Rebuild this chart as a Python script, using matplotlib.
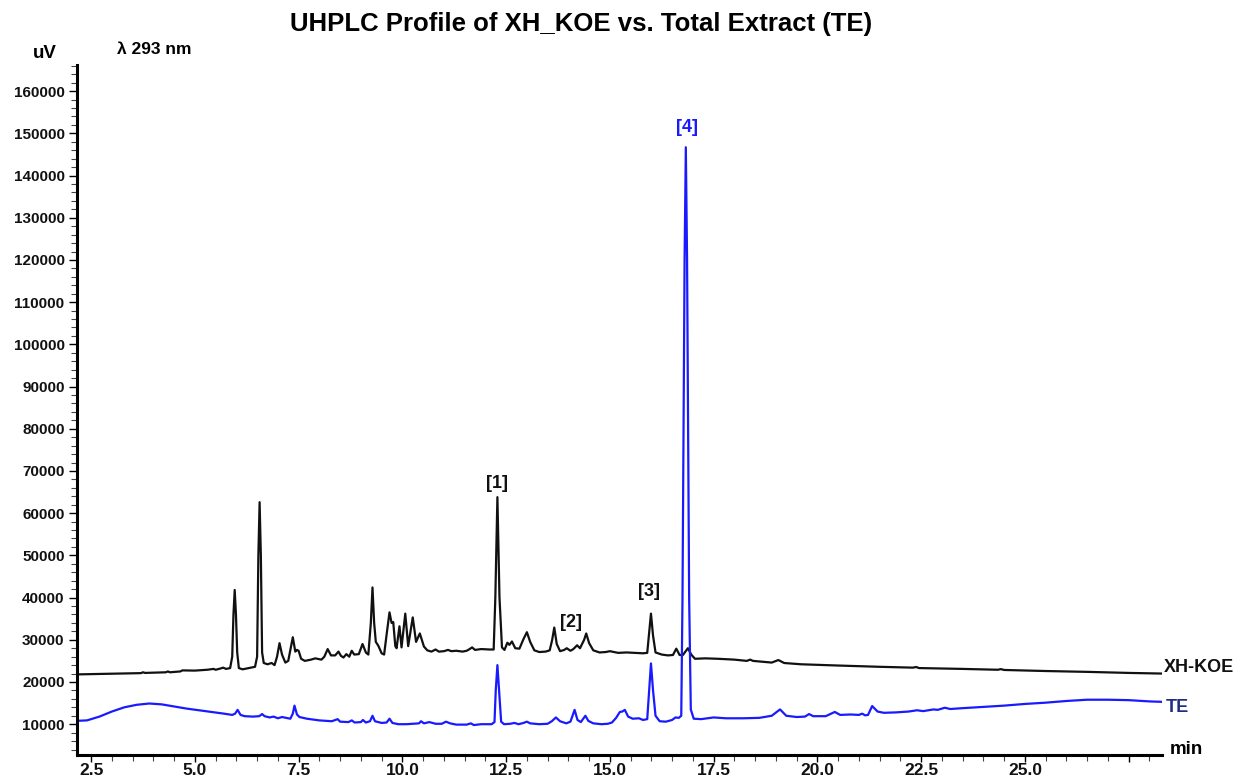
import matplotlib.pyplot as plt
from matplotlib.ticker import MultipleLocator

plt.rcParams['font.family'] = ['Liberation Sans', 'DejaVu Sans']

# XH-KOE trace (time in min, signal in uV)
koe_t = [2.16, 3.0, 3.7, 3.75, 3.8, 4.3, 4.35, 4.4, 4.65, 4.7, 5.0, 5.3, 5.45, 5.5, 5.62, 5.68, 5.75, 5.85,
         5.9, 5.93, 5.96, 5.99, 6.02, 6.06, 6.15, 6.3, 6.45,
         6.5, 6.53, 6.56, 6.59, 6.62, 6.66, 6.75, 6.85, 6.92,
         6.98, 7.04, 7.1, 7.18, 7.25,
         7.31, 7.36, 7.42, 7.46, 7.5, 7.56, 7.65, 7.8, 7.9, 8.05, 8.12,
         8.2, 8.28, 8.38, 8.46, 8.52, 8.58, 8.65, 8.72, 8.78, 8.84, 8.95,
         9.04, 9.12, 9.18,
         9.24, 9.28, 9.32, 9.36, 9.42, 9.5, 9.56,
         9.63, 9.69, 9.74, 9.78, 9.83, 9.86,
         9.93, 9.98, 10.07, 10.14, 10.25, 10.33,
         10.42, 10.52, 10.6, 10.7, 10.8, 10.88, 11.0, 11.1, 11.18, 11.3, 11.45, 11.55, 11.62, 11.68, 11.75, 11.9, 12.1, 12.2,
         12.24, 12.29, 12.34, 12.4, 12.46, 12.53, 12.58, 12.64, 12.72, 12.82,
         12.92, 13.0, 13.08, 13.18, 13.3, 13.45, 13.55,
         13.61, 13.66, 13.72, 13.8, 13.9, 13.96, 14.05, 14.12,
         14.21, 14.28,
         14.38, 14.43, 14.5, 14.6, 14.75, 14.9, 15.0, 15.2, 15.4, 15.6, 15.8, 15.9,
         15.94, 15.99, 16.04, 16.1, 16.25, 16.4, 16.52,
         16.6, 16.68, 16.76,
         16.88, 16.96, 17.05, 17.3, 17.6, 18.0, 18.3, 18.38, 18.45, 18.9, 19.06, 19.2, 19.6, 20.5, 21.5, 22.3, 22.38, 22.45,
         23.5, 24.35, 24.42, 24.5, 25.5, 26.5, 27.5, 28.3]
koe_uv = [21800, 21950, 22100, 22300, 22150, 22300, 22500, 22300, 22500, 22750, 22700, 22900, 23100, 22900, 23200, 23400, 23100, 23300,
          26000, 36000, 41800, 36000, 27000, 23300, 23000, 23300, 23600,
          26000, 50000, 62600, 50000, 27000, 24500, 24200, 24500, 24000,
          26000, 29200, 26500, 24600, 25000,
          28000, 30600, 27200, 27600, 27400, 25500, 25000, 25300, 25600, 25300, 26000,
          27800, 26300, 26300, 27200, 26200, 25800, 26600, 26000, 27400, 26500, 26600,
          29000, 27000, 26500,
          34000, 42400, 34000, 29500, 28600, 26800, 26500,
          32000, 36500, 34000, 34200, 28500, 28000,
          33200, 28200, 36200, 28500, 35300, 29500,
          31500, 28400, 27500, 27200, 27700, 27200, 27300, 27600, 27300, 27400, 27200, 27400, 27800, 28200, 27600, 27800, 27700, 27700,
          40000, 63800, 40000, 28200, 27600, 29300, 28800, 29600, 28000, 27900,
          30200, 31800, 29500, 27500, 27100, 27200, 27500,
          30000, 32900, 29000, 27300, 27600, 28000, 27400, 27800,
          28700, 28000,
          30000, 31500, 29200, 27500, 27000, 27100, 27300, 26900, 27000, 26900, 26800, 26900,
          31000, 36200, 31000, 27000, 26500, 26300, 26400,
          27900, 26400, 26400,
          28000, 26500, 25500, 25600, 25500, 25300, 25000, 25300, 25000, 24600, 25200, 24500, 24200, 23900, 23600, 23400, 23550, 23300,
          23100, 22900, 23050, 22850, 22600, 22400, 22150, 22000]

# Total Extract (TE) trace
te_t = [2.16, 2.4, 2.7, 3.0, 3.3, 3.6, 3.9, 4.2, 4.5, 4.8, 5.1, 5.4, 5.7, 5.9, 5.97,
        6.03, 6.1, 6.2, 6.4, 6.55, 6.62, 6.68, 6.8, 6.9, 7.0, 7.1, 7.2, 7.3,
        7.36, 7.4, 7.46, 7.52, 7.7, 8.0, 8.3, 8.44, 8.5, 8.7, 8.78, 8.85, 9.0, 9.05, 9.12, 9.22,
        9.28, 9.34, 9.5, 9.62, 9.69, 9.76, 9.9, 10.1, 10.25, 10.4, 10.45, 10.52, 10.65, 10.8, 10.95, 11.05, 11.15,
        11.3, 11.55, 11.65, 11.72, 11.9, 12.15, 12.22,
        12.25, 12.29, 12.33, 12.38, 12.45, 12.6, 12.7, 12.8, 12.92, 13.0, 13.08, 13.3, 13.5, 13.6,
        13.7, 13.8, 13.95, 14.05,
        14.15, 14.22, 14.3,
        14.41, 14.48, 14.6, 14.8, 14.95, 15.05, 15.15,
        15.24, 15.3, 15.36, 15.44, 15.55, 15.7, 15.8, 15.9,
        15.94, 15.99, 16.04, 16.1, 16.2, 16.35, 16.5, 16.58, 16.66, 16.72,
        16.75, 16.8, 16.83, 16.86, 16.91, 16.95, 17.02, 17.2, 17.5, 17.8, 18.2, 18.6, 18.9,
        19.1, 19.25, 19.5, 19.7, 19.8, 19.9, 20.2, 20.35, 20.42, 20.55, 20.8, 21.0, 21.08, 21.15, 21.22,
        21.32, 21.45, 21.6, 21.9, 22.2, 22.4, 22.55, 22.8, 22.9, 23.07, 23.2, 23.5, 24.0, 24.5, 25.0, 25.5,
        26.0, 26.5, 27.0, 27.5, 28.0, 28.3]
te_uv = [10800, 10900, 11800, 13000, 14000, 14600, 14900, 14700, 14200, 13700, 13300, 12900, 12500, 12200, 12500,
         13400, 12200, 11900, 11800, 11900, 12400, 11900, 11600, 11800, 11400, 11700, 11500, 11300,
         12500, 14400, 12300, 11700, 11300, 10900, 10700, 11200, 10600, 10500, 10900, 10400, 10500, 11000, 10400, 10700,
         12000, 10700, 10300, 10400, 11300, 10300, 10000, 10000, 10100, 10200, 10700, 10200, 10500, 10100, 10100, 10600, 10200,
         9900, 9900, 10200, 9800, 10000, 10000, 10500,
         18000, 24000, 18000, 10600, 10000, 10100, 10300, 10000, 10300, 10600, 10200, 10000, 10100, 10700,
         11600, 10700, 10200, 10600,
         13400, 11000, 10500,
         12000, 10800, 10200, 10000, 10100, 10400, 11500,
         12900, 13000, 13400, 11800, 11300, 11400, 11000, 11200,
         17000, 24400, 18000, 12000, 10700, 10600, 11000, 11600, 11500, 12000,
         40000, 120000, 146700, 120000, 40000, 13500, 11300, 11200, 11600, 11400, 11400, 11500, 12000,
         13500, 12000, 11700, 11800, 12400, 11900, 11900, 12600, 12900, 12200, 12300, 12200, 12500, 12100, 12200,
         14300, 13000, 12700, 12800, 13000, 13300, 13100, 13500, 13400, 13900, 13600, 13800, 14100, 14400, 14800, 15100,
         15500, 15800, 15800, 15700, 15400, 15300]

# peak annotations: label, time, signal, colour
peak_labels = ['[1]', '[2]', '[3]', '[4]']
peak_t = [12.29, 14.06, 15.94, 16.85]
peak_uv = [67100, 34200, 41500, 151500]
peak_colors = ['#111111', '#111111', '#111111', '#1a1aff']

fig = plt.figure(figsize=(12.36, 7.79), dpi=100)
ax = fig.add_axes([0.0623, 0.0308, 0.8777, 0.8858])

ax.plot(koe_t, koe_uv, color='#111111', lw=1.6, solid_joinstyle='round')
ax.plot(te_t, te_uv, color='#1a1aff', lw=1.6, solid_joinstyle='round')

for lab, t, v, c in zip(peak_labels, peak_t, peak_uv, peak_colors):
    ax.text(t, v, lab, color=c, fontsize=13, fontweight='bold', ha='center', va='center')

ax.set_xlim(2.16, 28.3)
ax.set_ylim(2700, 166200)

ax.set_xticks([2.5, 5.0, 7.5, 10.0, 12.5, 15.0, 17.5, 20.0, 22.5, 25.0, 27.5])
ax.set_xticklabels(['2.5', '5.0', '7.5', '10.0', '12.5', '15.0', '17.5', '20.0', '22.5', '25.0', ''])
ax.xaxis.set_minor_locator(MultipleLocator(0.5))
ax.set_yticks(range(10000, 160001, 10000))
ax.yaxis.set_minor_locator(MultipleLocator(2000))

ax.spines['top'].set_visible(False)
ax.spines['right'].set_visible(False)
ax.spines['left'].set_linewidth(2.2)
ax.spines['bottom'].set_linewidth(2.2)
ax.tick_params(axis='y', which='major', length=6, width=1, labelsize=11, pad=3)
ax.tick_params(axis='x', which='major', length=5, width=1, labelsize=12.5, pad=0.5)
ax.tick_params(axis='both', which='minor', length=4, width=0.8, color='#444444')
for lab in ax.get_xticklabels() + ax.get_yticklabels():
    lab.set_fontweight('bold')
    lab.set_color('#111111')

# axis units and trace names
fig.text(45 / 1236, 1 - 53 / 779, 'uV', fontsize=13.5, fontweight='bold', ha='center', va='center')
fig.text(117 / 1236, 1 - 50 / 779, 'λ 293 nm', fontsize=12.5, fontweight='bold', ha='left', va='center')
fig.text(1164 / 1236, 1 - 668 / 779, 'XH-KOE', fontsize=13, fontweight='bold', ha='left', va='center', color='#111111')
fig.text(1166 / 1236, 1 - 708 / 779, 'TE', fontsize=13, fontweight='bold', ha='left', va='center', color='#1f2f80')
fig.text(1170 / 1236, 1 - 749 / 779, 'min', fontsize=13.5, fontweight='bold', ha='left', va='center')
fig.text(581 / 1236, 1 - 24 / 779, 'UHPLC Profile of XH_KOE vs. Total Extract (TE)',
         fontsize=18.5, fontweight='bold', ha='center', va='center')

fig.savefig('out.png', dpi=100)
